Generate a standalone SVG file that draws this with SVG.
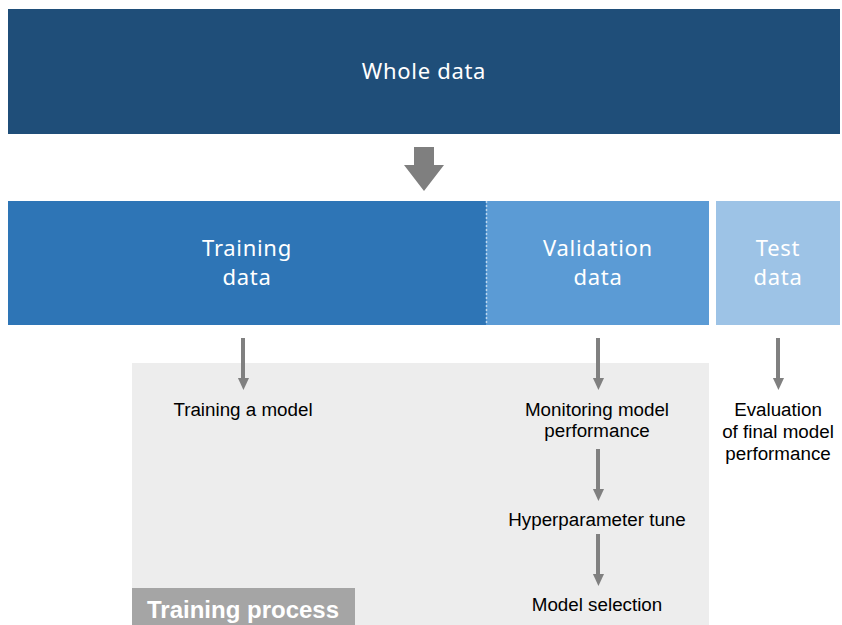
<svg xmlns="http://www.w3.org/2000/svg" width="842" height="625" viewBox="0 0 842 625">
<defs>
<style>
.big{font-family:"Noto Sans","DejaVu Sans",sans-serif;font-size:22px;fill:#fff;text-anchor:middle;letter-spacing:0.7px}
.lbl{font-family:"Liberation Sans",Arial,sans-serif;font-size:18.8px;fill:#000;text-anchor:middle}
.conn{stroke:#808080;stroke-width:4;fill:none;marker-end:url(#ah)}
</style>
<marker id="ah" markerUnits="userSpaceOnUse" markerWidth="12" markerHeight="13" refX="0" refY="6.5" orient="auto" viewBox="0 0 13 12">
<path d="M0,0 L13,6 L0,12 Z" fill="#808080"/>
</marker>
</defs>
<rect width="842" height="625" fill="#fff"/>
<g id="process-area">
<rect x="132" y="363" width="577" height="262" fill="#EDEDED"/>
<rect x="132" y="588" width="223" height="37" fill="#A5A5A5"/>
<text x="147" y="618" font-family="Liberation Sans,Arial,sans-serif" font-size="24" font-weight="bold" fill="#fff">Training process</text>
</g>
<g id="whole">
<rect x="8" y="9" width="832" height="125" fill="#1F4E79"/>
<text class="big" x="424" y="79">Whole data</text>
</g>
<g id="training">
<rect x="8" y="201" width="478" height="124" fill="#2E75B6"/>
<text class="big" x="247" y="256">Training</text>
<text class="big" x="247" y="285">data</text>
</g>
<g id="validation">
<rect x="486" y="201" width="223" height="124" fill="#5B9BD5"/>
<line x1="486.5" y1="201" x2="486.5" y2="325" stroke="#BDD7EE" stroke-width="1.5" stroke-dasharray="2,2"/>
<text class="big" x="598" y="256">Validation</text>
<text class="big" x="598" y="285">data</text>
</g>
<g id="test">
<rect x="716" y="201" width="124" height="124" fill="#9DC3E6"/>
<text class="big" x="778" y="256">Test</text>
<text class="big" x="778" y="285">data</text>
</g>
<g id="n-train-model"><text class="lbl" x="243" y="416">Training a model</text></g>
<g id="n-monitor"><text class="lbl" x="597" y="416">Monitoring model</text><text class="lbl" x="597" y="437">performance</text></g>
<g id="n-hyper"><text class="lbl" x="597" y="526">Hyperparameter tune</text></g>
<g id="n-select"><text class="lbl" x="597" y="611">Model selection</text></g>
<g id="n-eval"><text class="lbl" x="778" y="416">Evaluation</text><text class="lbl" x="778" y="438">of final model</text><text class="lbl" x="778" y="460">performance</text></g>
<g id="connectors">
<path d="M414,147 H434 V165 H444 L424,191 L404,165 H414 Z" fill="#7F7F7F"/>
<line class="conn" x1="243" y1="338" x2="243" y2="378"/>
<line class="conn" x1="598" y1="338" x2="598" y2="378"/>
<line class="conn" x1="598" y1="449" x2="598" y2="489"/>
<line class="conn" x1="598" y1="534" x2="598" y2="574"/>
<line class="conn" x1="778" y1="338" x2="778" y2="378"/>
</g>
</svg>
